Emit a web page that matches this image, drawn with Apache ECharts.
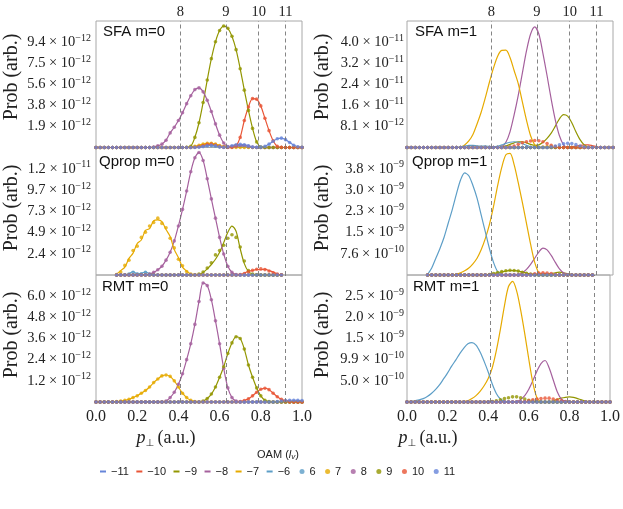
<!DOCTYPE html>
<html><head><meta charset="utf-8">
<script src="https://cdn.jsdelivr.net/npm/echarts@6/dist/echarts.min.js"></script>
<style>html,body{margin:0;padding:0;background:#fff}#c{width:623px;height:509px}</style>
</head><body><div id="c"></div>
<script>
// ---------- data ----------
const negNames = ['−11','−10','−9','−8','−7','−6'];
const posNames = ['6','7','8','9','10','11'];
const oamColor = {6:'#5D9EC7',7:'#E6AA00',8:'#A5609D',9:'#929600',10:'#E95536',11:'#6685D9'};
const photonX = [0.41, 0.627, 0.788, 0.92];
const photonLabels = ['8','9','10','11'];
const xTickLabels = ['0.0','0.2','0.4','0.6','0.8','1.0'];
const panelTitles = ['SFA m=0','Qprop m=0','RMT m=0','SFA m=1','Qprop m=1','RMT m=1'];

// y tick labels (mantissa, exponent)
const sfa0Mant = ['1.9','3.8','5.6','7.5','9.4'];  const sfa0Exp = ['−12','−12','−12','−12','−12'];
const qp0Mant  = ['2.4','4.9','7.3','9.7','1.2'];  const qp0Exp  = ['−12','−12','−12','−12','−11'];
const rmt0Mant = ['1.2','2.4','3.6','4.8','6.0']; const rmt0Exp = ['−12','−12','−12','−12','−12'];
const sfa1Mant = ['8.1','1.6','2.4','3.2','4.0']; const sfa1Exp = ['−12','−11','−11','−11','−11'];
const qp1Mant  = ['7.6','1.5','2.3','3.0','3.8']; const qp1Exp  = ['−10','−9','−9','−9','−9'];
const rmt1Mant = ['5.0','9.9','1.5','2.0','2.5']; const rmt1Exp = ['−10','−10','−9','−9','−9'];
// y tick step (in panel units) : sfa0/qp0/rmt0 in 1e-12, sfa1 in 1e-11, qp1/rmt1 in 1e-9
const yStep = [1.875, 2.43, 1.2, 0.808, 0.76, 0.495];

// curves: values every 0.02 in p_perp starting at "from" (zero elsewhere)
// SFA m=0 (x1e-12), lines (-l) and dots (+l) coincide
const sfa0_6  = {from:0.48, y:[0.03,0.08,0.14,0.18,0.17,0.12,0.05,0.01,0.02,0.06,0.10,0.12,0.08,0.03]};
const sfa0_7  = {from:0.46, y:[0.03,0.10,0.20,0.30,0.37,0.38,0.30,0.18,0.08,0.02]};
const sfa0_8  = {from:0.28, y:[0.05,0.15,0.3,0.65,1.3,1.8,2.4,3.1,3.9,4.6,5.15,5.3,4.95,4.2,3.2,2.1,1.1,0.4,0.08,0.06,0.12,0.18,0.18,0.10,0.03]};
const sfa0_9  = {from:0.44, y:[0.02,0.1,0.9,2.2,4.0,6.0,7.9,9.4,10.4,10.8,10.6,9.9,8.7,7.0,5.1,3.3,1.7,0.5,0.05]};
const sfa0_10 = {from:0.48, y:[0.02,0.08,0.18,0.28,0.30,0.22,0.10,0.03,0.0,0.02,0.15,0.9,2.4,3.6,4.35,4.3,3.7,2.6,1.5,0.6,0.1,0.02]};
const sfa0_11 = {from:0.50, y:[0.02,0.08,0.15,0.20,0.15,0.06,0.02,0.05,0.15,0.25,0.28,0.25,0.15,0.05,0.02,0.03,0.1,0.3,0.55,0.78,0.83,0.7,0.45,0.2,0.07,0.02]};
// Qprop m=0 (x1e-12)
const qp0_L6  = {from:0.14, y:[0.02,0.15,0.4,0.1,0.2,0.35,0.1,0.02]};
const qp0_D6  = {from:0.14, y:[0.02,0.1,0.3,0.15,0.15,0.3,0.1,0.02]};
const qp0_L7  = {from:0.10, y:[0.1,0.5,0.9,1.9,2.5,3.6,4.0,5.1,5.3,6.2,6.3,6.1,5.2,4.4,2.9,2.0,0.9,0.45,0.1,0.02]};
const qp0_D7  = {from:0.10, y:[0.05,0.35,1.1,1.7,2.8,3.3,4.3,4.9,5.6,6.0,6.5,5.9,5.4,4.2,3.1,1.8,1.05,0.4,0.12,0.02]};
const qp0_8   = {from:0.26, y:[0.1,0.3,0.6,1.0,1.7,2.6,3.9,5.6,7.5,9.6,11.8,13.4,14.0,13.1,11.0,8.7,6.5,4.3,2.4,1.0,0.3,0.05]};
const qp0_L9  = {from:0.50, y:[0.05,0.3,0.7,1.2,1.8,2.6,3.7,4.9,5.6,5.0,3.0,1.3,0.4,0.1,0.02]};
const qp0_D9  = {from:0.50, y:[0.1,0.35,0.8,1.4,2.3,2.8,3.4,4.2,4.6,4.3,3.2,1.6,0.5,0.1,0.02]};
const qp0_L10 = {from:0.70, y:[0.05,0.2,0.45,0.5,0.65,0.6,0.68,0.5,0.35,0.12,0.03]};
const qp0_D10 = {from:0.70, y:[0.05,0.18,0.38,0.55,0.65,0.7,0.62,0.45,0.25,0.1,0.02]};
// RMT m=0 (x1e-12)
const rmt0_7  = {from:0.10, y:[0.02,0.05,0.1,0.15,0.25,0.35,0.5,0.65,0.85,1.1,1.3,1.48,1.53,1.45,1.2,0.85,0.5,0.25,0.1,0.03]};
const rmt0_8  = {from:0.34, y:[0.05,0.25,0.55,1.0,1.6,2.4,3.3,4.4,5.7,6.75,6.6,5.8,4.6,3.3,1.9,0.8,0.25,0.05]};
const rmt0_9  = {from:0.52, y:[0.05,0.2,0.45,0.85,1.4,2.0,2.75,3.35,3.7,3.6,3.0,2.1,1.4,0.8,0.35,0.1,0.02]};
const rmt0_10 = {from:0.70, y:[0.02,0.08,0.18,0.35,0.55,0.72,0.78,0.7,0.5,0.3,0.15,0.06,0.02]};
const rmt0_11 = {from:0.88, y:[0.02,0.05,0.08,0.1,0.1,0.09,0.08]};
// SFA m=1 (x1e-11)
const sfa1_L6  = {from:0.26, y:[0.02,0.05,0.08,0.08,0.06,0.05,0.06,0.04,0.03,0.05,0.1,0.16,0.2,0.22,0.2,0.15,0.08,0.03]};
const sfa1_L7  = {from:0.26, y:[0.02,0.1,0.25,0.5,0.9,1.35,1.9,2.5,3.05,3.5,3.72,3.73,3.45,2.95,2.45,1.75,1.05,0.45,0.1]};
const sfa1_L8  = {from:0.46, y:[0.03,0.2,0.6,1.25,2.0,2.85,3.7,4.35,4.62,4.35,3.6,2.75,1.85,1.05,0.45,0.1]};
const sfa1_L9  = {from:0.46, y:[0.02,0.06,0.12,0.18,0.22,0.22,0.18,0.12,0.08,0.1,0.2,0.35,0.55,0.82,1.1,1.26,1.2,0.95,0.6,0.3,0.1,0.02]};
const sfa1_L10 = {from:0.80, y:[0.02,0.05,0.08,0.1,0.1,0.07,0.03,0.01]};
const sfa1_D7  = {from:0.66, y:[0.02,0.04,0.05,0.04,0.02]};
const sfa1_D10 = {from:0.50, y:[0.02,0.06,0.12,0.18,0.22,0.25,0.27,0.26,0.22,0.15,0.08,0.03]};
const sfa1_D11 = {from:0.70, y:[0.02,0.06,0.1,0.14,0.16,0.15,0.11,0.06,0.02]};
// Qprop m=1 (x1e-9)
const qp1_L6  = {from:0.10, y:[0.02,0.25,0.6,0.95,1.35,1.85,2.35,2.9,3.4,3.65,3.55,3.2,2.75,2.15,1.55,0.95,0.45,0.12,0.02]};
const qp1_L7  = {from:0.24, y:[0.03,0.08,0.15,0.25,0.4,0.6,0.9,1.3,1.8,2.45,3.2,3.85,4.3,4.35,3.95,3.3,2.6,1.85,1.1,0.45,0.08]};
const qp1_L8  = {from:0.54, y:[0.02,0.08,0.2,0.38,0.6,0.82,0.96,0.9,0.7,0.45,0.22,0.08,0.02]};
const qp1_L9  = {from:0.40, y:[0.02,0.05,0.08,0.11,0.14,0.16,0.16,0.14,0.11,0.07,0.04,0.02,0.01,0.01,0.02,0.05,0.08,0.1,0.08,0.04,0.01]};
const qp1_L10 = {from:0.60, y:[0.01,0.03,0.05,0.06,0.05,0.03,0.01]};
const qp1_D9  = {from:0.40, y:[0.02,0.05,0.09,0.12,0.15,0.17,0.16,0.14,0.1,0.06,0.03,0.01]};
const qp1_D10 = {from:0.60, y:[0.02,0.04,0.07,0.08,0.07,0.05,0.02]};
// RMT m=1 (x1e-9)
const rmt1_L6 = {from:0.00, y:[0,0.01,0.03,0.05,0.08,0.13,0.2,0.29,0.4,0.54,0.68,0.84,0.98,1.13,1.26,1.36,1.39,1.33,1.17,0.95,0.7,0.42,0.2,0.07,0.02]};
const rmt1_L7 = {from:0.28, y:[0.01,0.03,0.08,0.15,0.25,0.38,0.55,0.8,1.2,1.7,2.25,2.7,2.82,2.6,2.15,1.6,1.0,0.45,0.1,0.01]};
const rmt1_L8 = {from:0.54, y:[0.01,0.06,0.15,0.3,0.5,0.72,0.9,0.97,0.8,0.52,0.24,0.07,0.01]};
const rmt1_L9 = {from:0.70, y:[0.01,0.03,0.06,0.09,0.11,0.12,0.11,0.08,0.05,0.02,0.01]};
const rmt1_D9 = {from:0.42, y:[0.01,0.03,0.05,0.08,0.1,0.12,0.12,0.1,0.07,0.04,0.02,0.01]};
const rmt1_D10= {from:0.58, y:[0.01,0.03,0.05,0.07,0.08,0.09,0.09,0.07,0.05,0.03,0.01]};

// ---------- assembly ----------
const panels = [
  {range:[0,1],     mant:sfa0Mant, exp:sfa0Exp, lines:{6:sfa0_6,7:sfa0_7,8:sfa0_8,9:sfa0_9,10:sfa0_10,11:sfa0_11}, dots:{6:sfa0_6,7:sfa0_7,8:sfa0_8,9:sfa0_9,10:sfa0_10,11:sfa0_11}},
  {range:[0.1,0.9], mant:qp0Mant,  exp:qp0Exp,  lines:{6:qp0_L6,7:qp0_L7,8:qp0_8,9:qp0_L9,10:qp0_L10}, dots:{6:qp0_D6,7:qp0_D7,8:qp0_8,9:qp0_D9,10:qp0_D10}},
  {range:[0,1],     mant:rmt0Mant, exp:rmt0Exp, lines:{7:rmt0_7,8:rmt0_8,9:rmt0_9,10:rmt0_10,11:rmt0_11}, dots:{7:rmt0_7,8:rmt0_8,9:rmt0_9,10:rmt0_10,11:rmt0_11}},
  {range:[0,1],     mant:sfa1Mant, exp:sfa1Exp, lines:{6:sfa1_L6,7:sfa1_L7,8:sfa1_L8,9:sfa1_L9,10:sfa1_L10}, dots:{7:sfa1_D7,10:sfa1_D10,11:sfa1_D11}},
  {range:[0.1,0.9], mant:qp1Mant,  exp:qp1Exp,  lines:{6:qp1_L6,7:qp1_L7,8:qp1_L8,9:qp1_L9,10:qp1_L10}, dots:{9:qp1_D9,10:qp1_D10}},
  {range:[0,1],     mant:rmt1Mant, exp:rmt1Exp, lines:{6:rmt1_L6,7:rmt1_L7,8:rmt1_L8,9:rmt1_L9}, dots:{9:rmt1_D9,10:rmt1_D10}}
];

function curve(spec, lo, hi) {
  const n = Math.round((hi - lo) / 0.02), out = [];
  for (let i = 0; i <= n; i++) {
    const x = +(lo + i * 0.02).toFixed(2);
    let y = 0;
    if (spec) { const k = Math.round((x - spec.from) / 0.02); if (k >= 0 && k < spec.y.length) y = spec.y[k]; }
    out.push([x, y]);
  }
  return out;
}

const SERIF = 'Liberation Serif', SANS = 'Liberation Sans';
const gridLeft = [96, 407], gridTop = [21, 147.5, 275], gridH = [126.5, 127.5, 127];
const grids = [], xAxes = [], yAxes = [], series = [], graphics = [];

panels.forEach((p, gi) => {
  const col = Math.floor(gi / 3), row = gi % 3;
  const step = yStep[gi];
  grids.push({left: gridLeft[col], top: gridTop[row], width: 206, height: gridH[row],
    show: true, borderColor: '#a8a8a8', borderWidth: 1});
  xAxes.push({type: 'value', gridIndex: gi, min: 0, max: 1, interval: 0.2,
    axisLine: {show: false}, axisTick: {show: false}, splitLine: {show: false},
    axisLabel: {show: row === 2, margin: 7, color: '#222', fontFamily: SERIF, fontSize: 16,
      formatter: v => xTickLabels[Math.round(v / 0.2)]}});
  yAxes.push({type: 'value', gridIndex: gi, min: 0, max: step * 6, interval: step,
    axisLine: {show: false}, axisTick: {show: false}, splitLine: {show: false},
    axisLabel: {margin: col === 0 ? 5 : 3, color: '#222',
      formatter: v => { const k = Math.round(v / step); if (k < 1 || k > 5) return ''; return '{m|' + p.mant[k-1] + ' × 10}{e|' + p.exp[k-1] + '}'; },
      rich: {m: {fontFamily: SERIF, fontSize: 14.5, lineHeight: 18, color: '#222'},
             e: {fontFamily: SERIF, fontSize: 10, lineHeight: 10, verticalAlign: 'top', color: '#222'}}}});
  // lines for negative OAM
  [11,10,9,8,7,6].forEach((l, j) => {
    const s = {type: 'line', name: negNames[j], xAxisIndex: gi, yAxisIndex: gi,
      data: curve(p.lines[l], p.range[0], p.range[1]), showSymbol: false, smooth: 0.3,
      color: oamColor[l], lineStyle: {width: 1.2, color: oamColor[l]}, z: 2, silent: true};
    if (j === 0) {
      s.markLine = {silent: true, symbol: ['none','none'],
        lineStyle: {type: [4,3], color: '#777', width: 0.9},
        label: {show: row === 0, position: 'end', distance: 1, color: '#222', fontFamily: SERIF, fontSize: 14.5,
          formatter: prm => photonLabels[prm.dataIndex]},
        data: photonX.map(x => ({xAxis: x}))};
    }
    series.push(s);
  });
  // dots for positive OAM
  [6,7,8,9,10,11].forEach((l, j) => {
    series.push({type: 'scatter', name: posNames[j], xAxisIndex: gi, yAxisIndex: gi,
      data: curve(p.dots[l], p.range[0], p.range[1]), symbol: 'circle', symbolSize: 3.6,
      color: oamColor[l], itemStyle: {color: oamColor[l]}, z: 3, silent: true});
  });
  const tx = [[103, 33],[99,163],[102,288],[415,33],[412,163],[413,288]][gi];
  graphics.push({type: 'text', left: tx[0], top: tx[1] - 9, style: {text: panelTitles[gi], font: '15px ' + SANS, fill: '#111'}});
});

// axis names
[[12,77],[12,208],[12,335],[323,77],[323,208],[323,335]].forEach(c => {
  graphics.push({type: 'text', x: c[0], y: c[1], rotation: Math.PI / 2,
    style: {text: 'Prob (arb.)', font: '20px ' + SERIF, fill: '#222', align: 'center', verticalAlign: 'middle'}});
});
[166, 428].forEach(cx => {
  graphics.push({type: 'text', x: cx, y: 438,
    style: {text: '{p|p}{s|⊥} {n|(a.u.)}', align: 'center', verticalAlign: 'middle', fill: '#222',
      rich: {p: {fontFamily: SERIF, fontStyle: 'italic', fontSize: 18, lineHeight: 20},
             s: {fontFamily: 'DejaVu Sans', fontSize: 10, lineHeight: 10, verticalAlign: 'bottom'},
             n: {fontFamily: SERIF, fontSize: 18, lineHeight: 20}}}});
});
graphics.push({type: 'text', x: 278, y: 455,
  style: {text: 'OAM ({i|l}{s|v})', align: 'center', verticalAlign: 'middle', fill: '#222', font: '11px ' + SANS,
    rich: {i: {fontFamily: SANS, fontStyle: 'italic', fontSize: 11}, s: {fontFamily: SANS, fontStyle: 'italic', fontSize: 8, verticalAlign: 'bottom', lineHeight: 8}}}});

const chart = echarts.init(document.getElementById('c'), null, {renderer: 'canvas'});
chart.setOption({
  animation: false,
  grid: grids, xAxis: xAxes, yAxis: yAxes, series: series, graphic: graphics,
  legend: [
    {data: negNames, left: 100, top: 466, padding: 0, icon: 'rect', itemWidth: 6, itemHeight: 2, itemGap: 7.5,
     selectedMode: false, textStyle: {fontFamily: SANS, fontSize: 11, color: '#222'}},
    {data: posNames, left: 299.5, top: 466, padding: 0, icon: 'circle', itemWidth: 5, itemHeight: 5, itemGap: 9.5,
     selectedMode: false, textStyle: {fontFamily: SANS, fontSize: 11, color: '#222'}}
  ]
});
</script></body></html>
